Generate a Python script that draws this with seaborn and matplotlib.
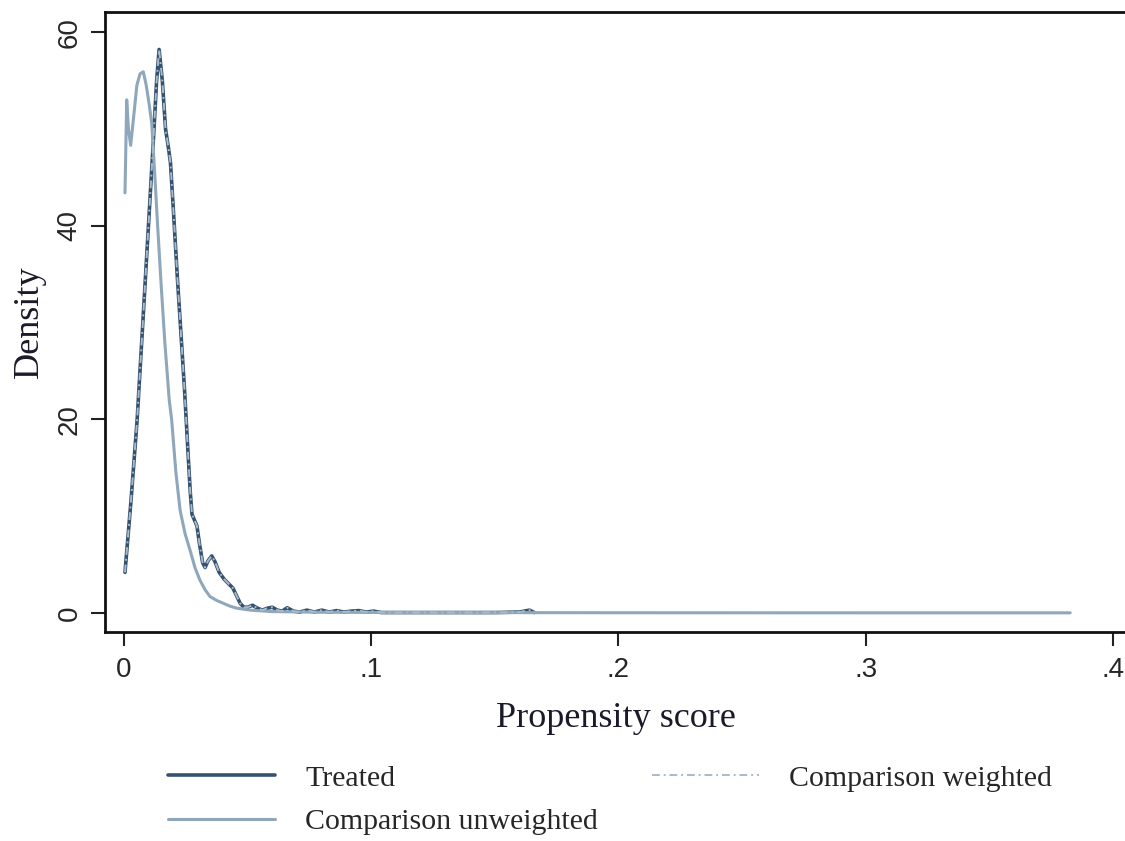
import matplotlib
matplotlib.use("Agg")
import matplotlib.pyplot as plt
import seaborn as sns
import pandas as pd

# Kernel density estimates of the propensity score by group
treated_x = [0.0004, 0.0028, 0.0053, 0.0075, 0.0098, 0.0119, 0.0132, 0.0142,
             0.0155, 0.0168, 0.0180, 0.0188, 0.0200, 0.0215, 0.0230, 0.0245,
             0.0258, 0.0268, 0.0275, 0.0285, 0.0295, 0.0305, 0.0318, 0.0328,
             0.0340, 0.0355, 0.0368, 0.0385, 0.0405, 0.0420, 0.0440, 0.0455,
             0.0470, 0.0485, 0.0500, 0.0520, 0.0540, 0.0560, 0.0580, 0.0600,
             0.0620, 0.0640, 0.0660, 0.0685, 0.0710, 0.0740, 0.0770, 0.0800,
             0.0830, 0.0860, 0.0890, 0.0920, 0.0950, 0.0980, 0.1010, 0.1040,
             0.1100, 0.1200, 0.1300, 0.1400, 0.1500, 0.1600, 0.1640, 0.1660]
treated_y = [4.2, 11.5, 19.9, 29.5, 39.6, 48.9, 55.0, 58.2,
             55.0, 50.0, 48.0, 46.5, 41.5, 35.0, 29.0, 23.0,
             17.0, 12.5, 10.2, 9.6, 9.0, 7.2, 5.2, 4.7,
             5.4, 5.9, 5.3, 4.2, 3.5, 3.1, 2.6, 1.8,
             1.0, 0.6, 0.6, 0.8, 0.5, 0.3, 0.5, 0.6,
             0.3, 0.2, 0.55, 0.2, 0.1, 0.3, 0.1, 0.3,
             0.1, 0.25, 0.1, 0.2, 0.25, 0.1, 0.2, 0.05,
             0.05, 0.05, 0.05, 0.05, 0.05, 0.1, 0.3, 0.05]

unweighted_x = [0.0004, 0.0011, 0.0018, 0.0027, 0.0038, 0.0052, 0.0065, 0.0078,
                0.0090, 0.0102, 0.0112, 0.0124, 0.0136, 0.0150, 0.0165, 0.0183,
                0.0193, 0.0210, 0.0227, 0.0247, 0.0267, 0.0287, 0.0307, 0.0328,
                0.0348, 0.0375, 0.0402, 0.0430, 0.0456, 0.0510, 0.0600, 0.0800,
                0.1200, 0.2000, 0.3000, 0.3827]
unweighted_y = [43.4, 53.0, 50.0, 48.3, 51.0, 54.5, 55.7, 55.9,
                54.5, 52.5, 50.6, 45.5, 40.0, 34.0, 28.0, 22.0,
                19.9, 14.5, 10.6, 8.2, 6.5, 4.7, 3.4, 2.4,
                1.7, 1.3, 1.0, 0.7, 0.5, 0.3, 0.15, 0.08,
                0.05, 0.03, 0.02, 0.02]

weighted_x = list(treated_x)
weighted_y = list(treated_y)

x_ticks = [0, 0.1, 0.2, 0.3, 0.4]
x_tick_labels = ["0", ".1", ".2", ".3", ".4"]
y_ticks = [0, 20, 40, 60]
y_tick_labels = ["0", "20", "40", "60"]

sns.set_theme(style="white")

fig = plt.figure(figsize=(11.25, 8.41), dpi=100)
ax = fig.add_axes([0.0933, 0.2485, 0.9067 + 0.002, 0.7372])

treated_df = pd.DataFrame({"x": treated_x, "y": treated_y})
unweighted_df = pd.DataFrame({"x": unweighted_x, "y": unweighted_y})
weighted_df = pd.DataFrame({"x": weighted_x, "y": weighted_y})

sns.lineplot(data=treated_df, x="x", y="y", ax=ax, sort=False, estimator=None,
             color="#34526f", linewidth=2.6, label="Treated")
sns.lineplot(data=unweighted_df, x="x", y="y", ax=ax, sort=False, estimator=None,
             color="#8ea7ba", linewidth=2.2, label="Comparison unweighted")
sns.lineplot(data=weighted_df, x="x", y="y", ax=ax, sort=False, estimator=None,
             color="#a9bacb", linewidth=1.4, linestyle=(0, (4, 2, 1, 2)),
             label="Comparison weighted")

ax.set_xlim(-0.0077, 0.4058)
ax.set_ylim(-1.96, 62.07)

tick_font = {"family": "Liberation Sans", "size": 20}
ax.set_xticks(x_ticks)
ax.set_xticklabels(x_tick_labels, fontdict=tick_font)
ax.set_yticks(y_ticks)
ax.set_yticklabels(y_tick_labels, fontdict=tick_font, rotation=90, va="center")
ax.tick_params(axis="both", direction="out", length=10, width=1.5, color="#222222",
               bottom=True, left=True, pad=6)
ax.tick_params(axis="x", pad=8)

label_font = {"family": "Liberation Serif", "size": 26, "color": "#1a1a2a"}
ax.set_xlabel("Propensity score", fontdict=label_font, labelpad=14)
ax.set_ylabel("Density", fontdict=label_font, labelpad=8)

for side in ["left", "bottom", "top", "right"]:
    ax.spines[side].set_color("#111111")
    ax.spines[side].set_linewidth(2.0)

handles, labels = ax.get_legend_handles_labels()
ax.get_legend().remove()
fig.legend(handles, labels, loc="upper left", bbox_to_anchor=(0.1493, 0.0905),
           ncol=2, frameon=False, borderpad=0, borderaxespad=0,
           handlelength=3.6, handletextpad=1.0, columnspacing=1.8,
           labelspacing=0.55, prop={"family": "Liberation Serif", "size": 21.5})

fig.savefig("out.png", dpi=100, facecolor="white")
